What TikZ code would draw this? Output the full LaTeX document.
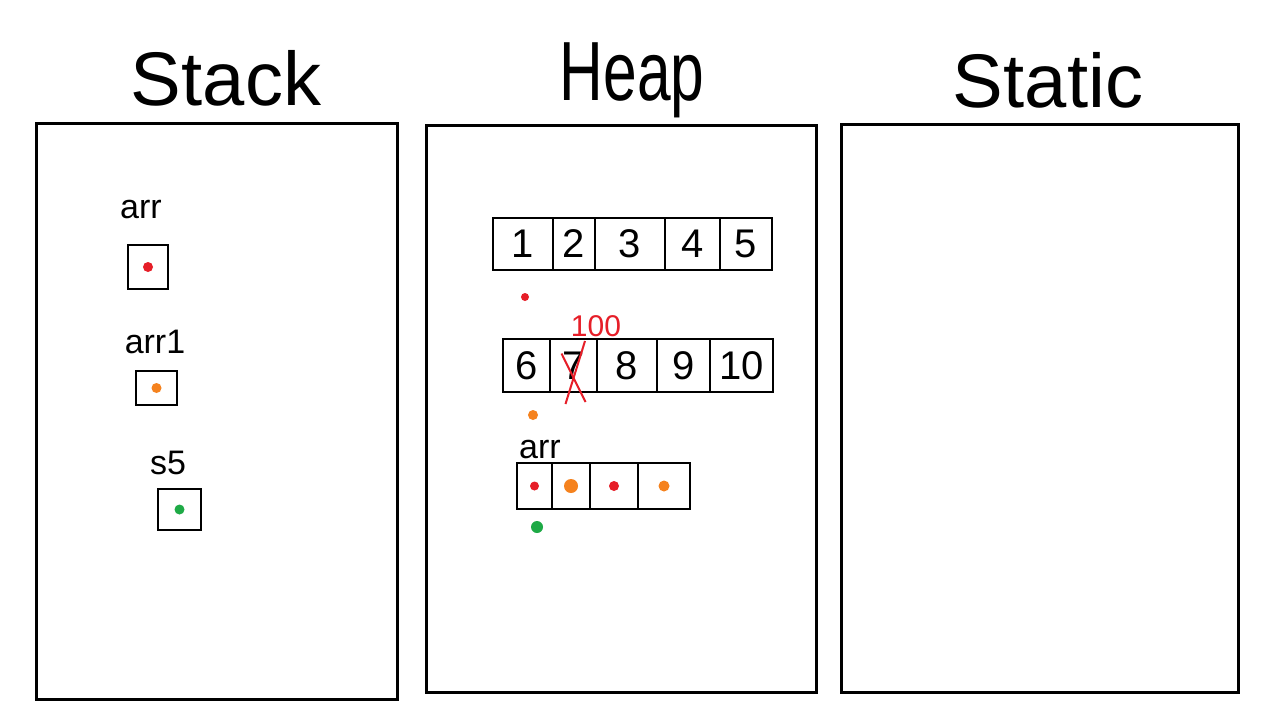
\documentclass[tikz,border=0pt]{standalone}
\usepackage{fontspec}
\setmainfont{Liberation Sans}
\definecolor{dotred}{RGB}{230,30,40}
\definecolor{dotorange}{RGB}{245,130,30}
\definecolor{dotgreen}{RGB}{30,170,70}
\begin{document}
\begin{tikzpicture}[x=1pt,y=-1pt,
  panel/.style={draw, line width=3pt, inner sep=0pt, outer sep=0pt, anchor=north west},
  sbox/.style={draw, line width=2.5pt, inner sep=0pt, outer sep=0pt, anchor=north west},
  cell/.style={draw, line width=2.5pt, inner sep=0pt, outer sep=0pt, anchor=north west, font=\fontsize{40}{44}\selectfont},
  title/.style={inner sep=0pt, font=\fontsize{76}{80}\selectfont},
  lbl/.style={inner sep=0pt, font=\fontsize{34}{38}\selectfont},
  dot/.style={circle, fill=#1, inner sep=0pt, minimum size=10pt}]
\useasboundingbox (0,0) rectangle (1281,725);
\fill[white] (0,0) rectangle (1281,725);
% titles
\node[title] (tstack) at (226,78) {Stack};
\node[title, font=\fontsize{84}{88}\selectfont] (theap) at (632,80) {\scalebox{0.72}[1]{Heap}};
\node[title] (tstatic) at (1048,80) {Static};
% panels
\node[panel, minimum width=361pt, minimum height=576pt] (stack) at (36,123) {};
\node[panel, minimum width=390pt, minimum height=567pt] (heap) at (426,125) {};
\node[panel, minimum width=397pt, minimum height=568pt] (static) at (841,124) {};
% stack entries
\node[lbl] (larr) at (141,210) {arr};
\node[sbox, minimum width=40pt, minimum height=44pt] (b1) at (128,245) {};
\node[dot=dotred] (d1) at (b1.center) {};
\node[lbl] (larr1) at (155,342) {arr1};
\node[sbox, minimum width=41pt, minimum height=34pt] (b2) at (136,371) {};
\node[dot=dotorange] (d2) at (b2.center) {};
\node[lbl] (ls5) at (168,463) {s5};
\node[sbox, minimum width=43pt, minimum height=41pt] (b3) at (158,489) {};
\node[dot=dotgreen] (d3) at (b3.center) {};
% heap array 1
\node[cell, minimum width=60pt, minimum height=52pt] (a1) at (493,218) {1};
\node[cell, minimum width=42pt, minimum height=52pt] (a2) at (553,218) {2};
\node[cell, minimum width=70pt, minimum height=52pt] (a3) at (595,218) {3};
\node[cell, minimum width=55pt, minimum height=52pt] (a4) at (665,218) {4};
\node[cell, minimum width=52pt, minimum height=52pt] (a5) at (720,218) {5};
\node[dot=dotred, minimum size=8pt] (hd1) at (525,297) {};
% heap array 2
\node[cell, minimum width=47pt, minimum height=53pt] (c1) at (503,339) {6};
\node[cell, minimum width=47pt, minimum height=53pt] (c2) at (550,339) {7};
\node[cell, minimum width=60pt, minimum height=53pt] (c3) at (597,339) {8};
\node[cell, minimum width=53pt, minimum height=53pt] (c4) at (657,339) {9};
\node[cell, minimum width=63pt, minimum height=53pt] (c5) at (710,339) {10};
\draw[dotred, line width=2pt] ([xshift=-12pt,yshift=-2pt]c2.north east) -- ([xshift=-8pt,yshift=-12pt]c2.south);
\draw[dotred, line width=2pt] ([xshift=-12pt,yshift=12pt]c2.center) -- ([xshift=12pt,yshift=-10pt]c2.south);
\node[lbl, text=dotred, font=\fontsize{30}{34}\selectfont] (l100) at (596,326) {100};
\node[dot=dotorange] (hd2) at (533,415) {};
% heap array 3
\node[lbl] (larr2) at (540,450) {arr};
\node[cell, minimum width=35pt, minimum height=46pt] (e1) at (517,463) {};
\node[cell, minimum width=38pt, minimum height=46pt] (e2) at (552,463) {};
\node[cell, minimum width=48pt, minimum height=46pt] (e3) at (590,463) {};
\node[cell, minimum width=52pt, minimum height=46pt] (e4) at (638,463) {};
\node[dot=dotred, minimum size=9pt] (ed1) at (e1.center) {};
\node[dot=dotorange, minimum size=14pt] (ed2) at (e2.center) {};
\node[dot=dotred, minimum size=10pt] (ed3) at (e3.center) {};
\node[dot=dotorange, minimum size=11pt] (ed4) at (e4.center) {};
\node[dot=dotgreen, minimum size=12pt] (hd3) at (537,527) {};
\end{tikzpicture}
\end{document}
